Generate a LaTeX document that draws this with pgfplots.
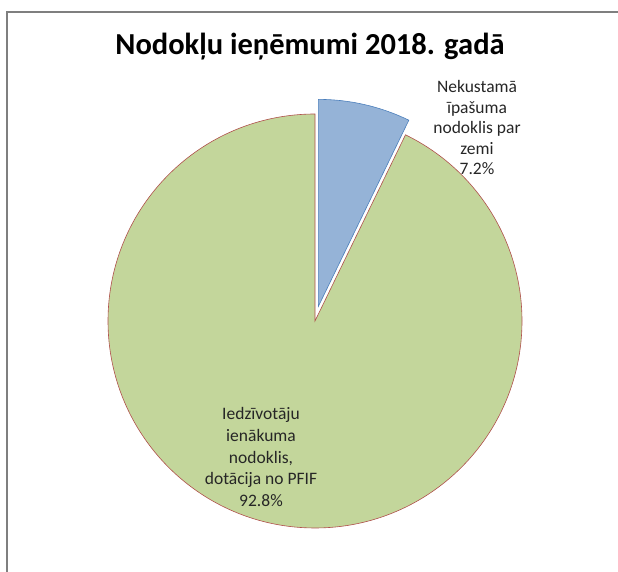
\documentclass[border=0pt]{standalone}
\usepackage{pgfplots}
\pgfplotsset{compat=1.18}
\usepackage{pgfplotstable}
\usepackage{fontspec}
\setmainfont{Carlito}

% tax revenue shares, percent
\pgfplotstableread{
value
7.2
92.8
}\taxes

\definecolor{pieblue}{HTML}{95B3D7}
\definecolor{pieblueedge}{HTML}{4A7EBB}
\definecolor{piegreen}{HTML}{C3D69B}
\definecolor{piegreenedge}{HTML}{B0504C}
\definecolor{framegray}{HTML}{7F7F7F}

\begin{document}
\begin{tikzpicture}
\pgfplotstablegetelem{0}{value}\of\taxes \let\vland\pgfplotsretval
\pgfplotstablegetelem{1}{value}\of\taxes \let\vinc\pgfplotsretval
\begin{axis}[at={(0,0)}, anchor=south west, scale only axis,
    width=618pt, height=572pt,
    xmin=0, xmax=618, ymin=0, ymax=572,
    hide axis, clip=false]
  \pgfmathsetmacro\a{90-3.6*\vland}
  \pgfmathsetmacro\m{90-1.8*\vland}
  \pgfmathsetmacro\ga{\a+360}
  \def\cx{315}\def\cy{251}\def\r{207}
  \pgfmathsetmacro\bx{\cx+15*cos(\m)}
  \pgfmathsetmacro\by{\cy+15*sin(\m)}
  % green slice
  \filldraw[fill=piegreen, draw=piegreenedge, line width=0.6pt]
    (axis cs:\cx,\cy) -- (axis cs:\cx,\cy+\r)
    arc[start angle=90, end angle=\ga, radius=\r pt] -- cycle;
  % blue slice, pulled out
  \filldraw[fill=pieblue, draw=pieblueedge, line width=0.6pt]
    (axis cs:\bx,\by) -- (axis cs:\bx,\by+\r)
    arc[start angle=90, end angle=\a, radius=\r pt] -- cycle;
  \node[anchor=base, font=\bfseries\fontsize{30.5}{36}\selectfont]
    at (axis cs:310,517) {Nodokļu ieņēmumi 2018. gadā};
  \node[align=center, font=\fontsize{17.5}{20.5}\selectfont, text=black!85]
    at (axis cs:477,444) {Nekustamā\\īpašuma\\nodoklis par\\zemi\\\pgfmathprintnumber[assume math mode=true,fixed,precision=1,fixed zerofill]{\vland}\%};
  \node[align=center, font=\fontsize{17.5}{21.5}\selectfont, text=black!85]
    at (axis cs:261,115) {Iedzīvotāju\\ienākuma\\nodoklis,\\dotācija no PFIF\\\pgfmathprintnumber[assume math mode=true,fixed,precision=1,fixed zerofill]{\vinc}\%};
  \draw[framegray, line width=1.2pt] (axis cs:7,-20) -- (axis cs:7,560) -- (axis cs:640,560);
\end{axis}
\pgfresetboundingbox
\path[use as bounding box] (0,0) rectangle (618pt,572pt);
\end{tikzpicture}
\end{document}
